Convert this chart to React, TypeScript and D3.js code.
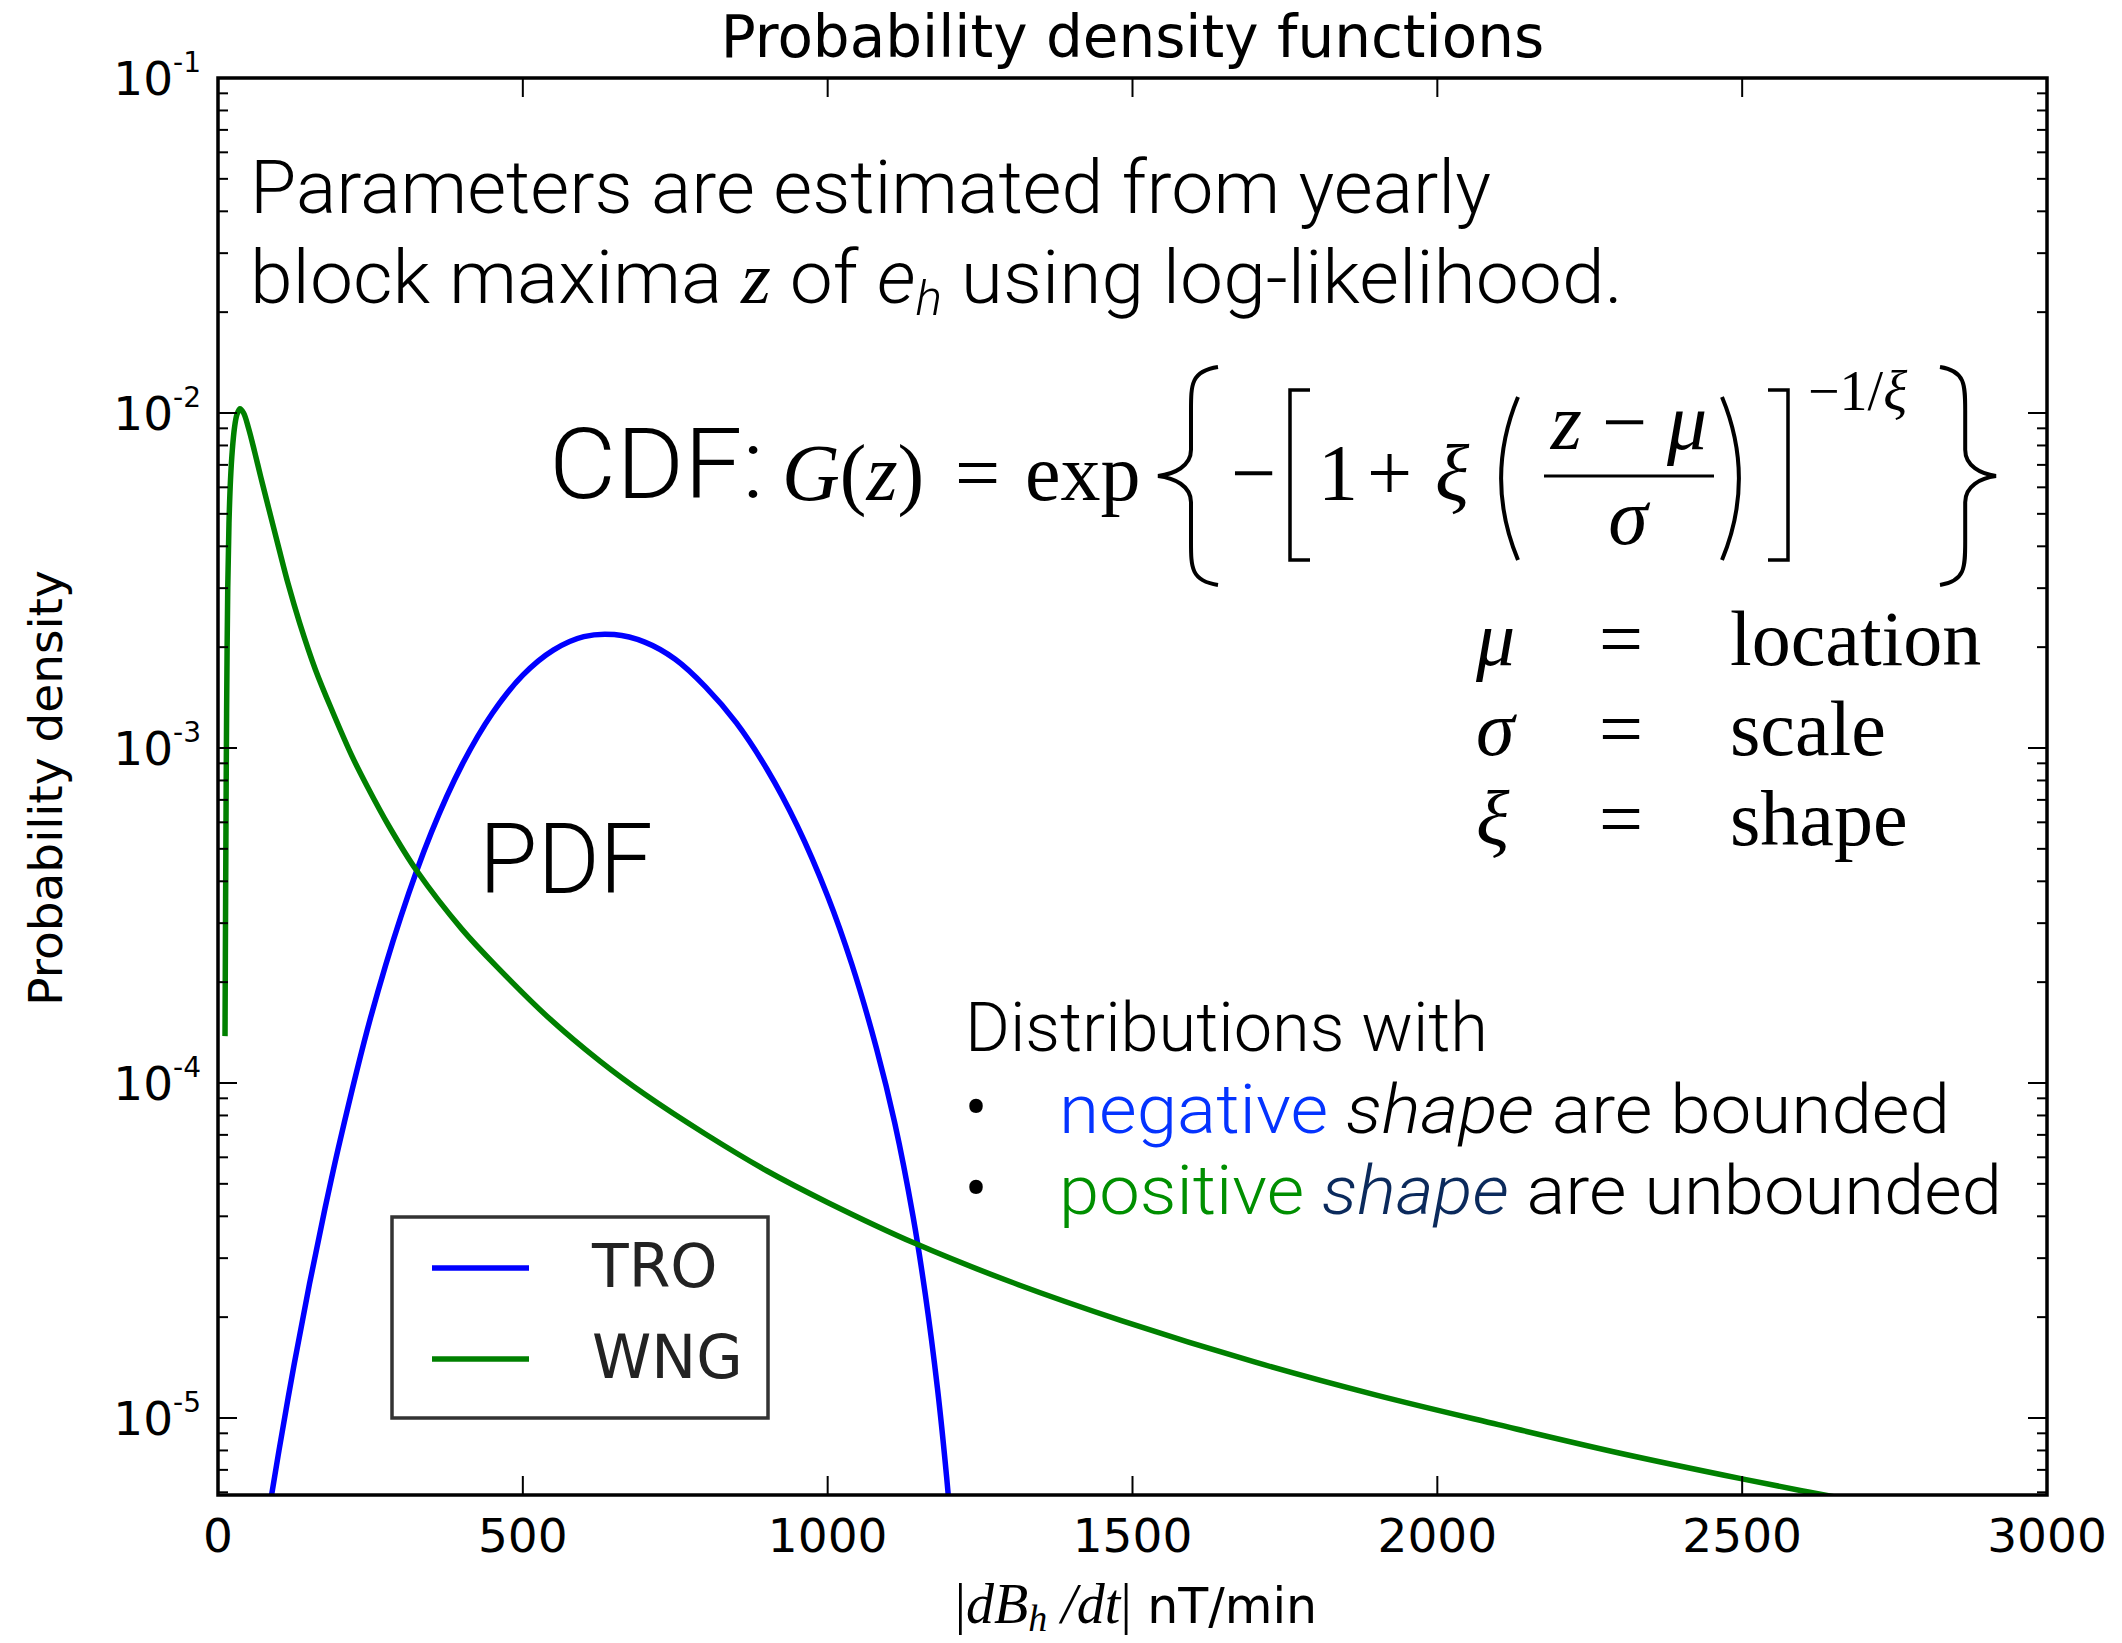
import React from 'react';
import * as d3 from 'd3';

// values
const xTicks = [0, 500, 1000, 1500, 2000, 2500, 3000];
const yDecades = [-1, -2, -3, -4, -5];

const seriesNames = ['TRO', 'WNG'];

const troX = [80, 85, 100, 125, 150, 175, 200, 250, 300, 350, 400, 450, 500, 550, 600, 650, 700, 750, 800, 850, 900, 950, 1000, 1040, 1080, 1110, 1140, 1160, 1180, 1195, 1205];
const troY = [4.82e-6, 5.47e-6, 7.99e-6, 1.45e-5, 2.51e-5, 4.18e-5, 6.71e-5, 1.56e-4, 3.14e-4, 5.6e-4, 8.89e-4, 1.27e-3, 1.65e-3, 1.96e-3, 2.15e-3, 2.18e-3, 2.07e-3, 1.84e-3, 1.52e-3, 1.19e-3, 8.67e-4, 5.86e-4, 3.61e-4, 2.25e-4, 1.27e-4, 7.6e-5, 4.0e-5, 2.35e-5, 1.23e-5, 6.7e-6, 4.1e-6];

const wngX = [11.5, 12.5, 13.5, 14.5, 16, 18, 20.5, 23.5, 27, 31, 36, 42, 50, 60, 70, 80, 99, 115, 134, 160, 189, 220, 244, 280, 326, 400, 462, 540, 627, 700, 800, 900, 1000, 1145, 1300, 1483, 1700, 1900, 2100, 2300, 2500, 2611, 2700];
const wngY = [1.38e-4, 3.55e-4, 8.32e-4, 1.58e-3, 3.02e-3, 4.68e-3, 6.31e-3, 7.76e-3, 9.02e-3, 9.89e-3, 1.03e-2, 1.0e-2, 9.02e-3, 7.67e-3, 6.46e-3, 5.47e-3, 4.0e-3, 3.09e-3, 2.36e-3, 1.71e-3, 1.27e-3, 9.44e-4, 7.73e-4, 5.86e-4, 4.3e-4, 2.88e-4, 2.18e-4, 1.58e-4, 1.16e-4, 9.25e-5, 7.03e-5, 5.47e-5, 4.4e-5, 3.31e-5, 2.55e-5, 1.95e-5, 1.47e-5, 1.17e-5, 9.55e-6, 7.85e-6, 6.58e-6, 6.0e-6, 5.6e-6];

const W = 2122;
const H = 1643;
const M = { left: 218, right: 2047, top: 78, bottom: 1495 };
const colors = ['#0000ff', '#008000'];

const SANS = 'DejaVu Sans';
const LIGHT = 'Roboto';
const SERIF = 'Liberation Serif';

// tall math delimiters drawn as paths
const bracePath = (x0: number, x1: number, top: number, bot: number, left: boolean) => {
  const mid = (top + bot) / 2;
  const inner = left ? x0 + (x1 - x0) * 0.55 : x1 - (x1 - x0) * 0.55;
  const tip = left ? x0 : x1;
  const end = left ? x1 : x0;
  const h = bot - top;
  return `M${end},${top} C${inner},${top + 4} ${inner},${top + h * 0.08} ${inner},${top + h * 0.2}
    L${inner},${mid - h * 0.12} C${inner},${mid - 10} ${(inner + tip) / 2},${mid - 2} ${tip},${mid}
    C${(inner + tip) / 2},${mid + 2} ${inner},${mid + 10} ${inner},${mid + h * 0.12}
    L${inner},${bot - h * 0.2} C${inner},${bot - h * 0.08} ${inner},${bot - 4} ${end},${bot}`;
};
const parenPath = (x0: number, x1: number, top: number, bot: number, left: boolean) => {
  const a = left ? x1 : x0;
  const b = left ? x0 - (x1 - x0) * 0.3 : x1 + (x1 - x0) * 0.3;
  return `M${a},${top} Q${b},${(top + bot) / 2} ${a},${bot}`;
};
const bracketPath = (x0: number, x1: number, top: number, bot: number, left: boolean) =>
  left ? `M${x1},${top} L${x0},${top} L${x0},${bot} L${x1},${bot}` : `M${x0},${top} L${x1},${top} L${x1},${bot} L${x0},${bot}`;

export default function App() {
  const x = d3.scaleLinear().domain([0, 3000]).range([M.left, M.right]);
  const y = d3.scaleLog().domain([Math.pow(10, -5.2299), 0.1]).range([M.bottom, M.top]);

  const line = d3
    .line<[number, number]>()
    .x((d) => x(d[0]))
    .y((d) => y(d[1]))
    .curve(d3.curveCatmullRom.alpha(0.5));

  const series = [
    troX.map((v, i) => [v, troY[i]] as [number, number]),
    wngX.map((v, i) => [v, wngY[i]] as [number, number]),
  ];

  const [ymin, ymax] = y.domain();
  const minor: number[] = [];
  for (let k = -6; k <= -2; k++) {
    for (let m = 2; m <= 9; m++) {
      const v = m * Math.pow(10, k);
      if (v >= ymin && v <= ymax) minor.push(v);
    }
  }

  const majLen = 19;
  const minLen = 10;
  const lw = 5.5;

  return (
    <svg width={W} height={H} style={{ position: 'absolute', left: 0, top: 0, background: '#fff' }}>
      <defs>
        <clipPath id="plotArea">
          <rect x={M.left} y={M.top} width={M.right - M.left} height={M.bottom - M.top} />
        </clipPath>
      </defs>
      <rect width={W} height={H} fill="#fff" />

      {/* curves */}
      <g clipPath="url(#plotArea)">
        {series.map((s, i) => (
          <path key={seriesNames[i]} d={line(s) || ''} fill="none" stroke={colors[i]} strokeWidth={lw} strokeLinejoin="round" />
        ))}
      </g>

      {/* ticks */}
      <g stroke="#000" strokeWidth={2}>
        {xTicks.map((t) => (
          <g key={'xt' + t}>
            <line x1={x(t)} x2={x(t)} y1={M.bottom} y2={M.bottom - majLen} />
            <line x1={x(t)} x2={x(t)} y1={M.top} y2={M.top + majLen} />
          </g>
        ))}
        {yDecades.map((k) => (
          <g key={'yt' + k}>
            <line x1={M.left} x2={M.left + majLen} y1={y(Math.pow(10, k))} y2={y(Math.pow(10, k))} />
            <line x1={M.right} x2={M.right - majLen} y1={y(Math.pow(10, k))} y2={y(Math.pow(10, k))} />
          </g>
        ))}
        {minor.map((v) => (
          <g key={'ym' + v}>
            <line x1={M.left} x2={M.left + minLen} y1={y(v)} y2={y(v)} />
            <line x1={M.right} x2={M.right - minLen} y1={y(v)} y2={y(v)} />
          </g>
        ))}
      </g>

      {/* frame */}
      <rect x={M.left} y={M.top} width={M.right - M.left} height={M.bottom - M.top} fill="none" stroke="#000" strokeWidth={3.5} />

      {/* tick labels */}
      <g fontFamily={SANS} fontSize={47} fill="#000">
        {xTicks.map((t) => (
          <text key={'xl' + t} x={x(t)} y={M.bottom + 57} textAnchor="middle">
            {t}
          </text>
        ))}
        {yDecades.map((k) => (
          <text key={'yl' + k} x={M.left - 17} y={y(Math.pow(10, k)) + 17} textAnchor="end">
            10
            <tspan fontSize={28} dy={-23}>
              {'-' + -k}
            </tspan>
          </text>
        ))}
      </g>

      {/* title and axis labels */}
      <text x={(M.left + M.right) / 2} y={57} textAnchor="middle" fontFamily={SANS} fontSize={58}>
        Probability density functions
      </text>
      <text transform="translate(62,788) rotate(-90)" textAnchor="middle" fontFamily={SANS} fontSize={47}>
        Probability density
      </text>
      <text x={1136} y={1623} textAnchor="middle" fontSize={56}>
        <tspan fontFamily={SERIF}>|</tspan>
        <tspan fontFamily={SERIF} fontStyle="italic">dB</tspan>
        <tspan fontFamily={SERIF} fontStyle="italic" fontSize={38} dy={8}>h</tspan>
        <tspan fontFamily={SERIF} fontStyle="italic" dy={-8}> /dt</tspan>
        <tspan fontFamily={SERIF}>|</tspan>
        <tspan fontFamily={SANS} fontSize={49}> nT/min</tspan>
      </text>

      {/* legend */}
      <g>
        <rect x={392} y={1217} width={376} height={201} fill="#fff" stroke="#333" strokeWidth={3.5} />
        {seriesNames.map((n, i) => (
          <g key={'lg' + n}>
            <line x1={432} x2={529} y1={1268 + i * 91} y2={1268 + i * 91} stroke={colors[i]} strokeWidth={lw} />
            <text x={592} y={1287 + i * 91} fontFamily={SANS} fontSize={60} fill="#222">
              {n}
            </text>
          </g>
        ))}
      </g>

      {/* annotations */}
      <g fontFamily={LIGHT} fontWeight={300} fill="#000">
        <text x={250} y={213} fontSize={74} textLength={1241} lengthAdjust="spacingAndGlyphs">
          Parameters are estimated from yearly
        </text>
        <text x={250} y={303} fontSize={74} textLength={1373} lengthAdjust="spacingAndGlyphs">
          block maxima <tspan fontFamily={SERIF} fontStyle="italic" fontWeight={400}>z</tspan> of{' '}
          <tspan fontStyle="italic">e</tspan>
          <tspan fontStyle="italic" fontSize={48} dy={12}>h</tspan>
          <tspan dy={-12}> using log-likelihood.</tspan>
        </text>
        <text x={549} y={498} fontSize={98} textLength={215} lengthAdjust="spacingAndGlyphs">
          CDF:
        </text>
        <text x={479} y={893} fontSize={98} textLength={174} lengthAdjust="spacingAndGlyphs">
          PDF
        </text>
        <text x={965} y={1051} fontSize={68} textLength={523} lengthAdjust="spacingAndGlyphs">
          Distributions with
        </text>
        <text x={964} y={1133} fontSize={74}>•</text>
        <text x={964} y={1214} fontSize={74}>•</text>
        <text x={1059} y={1133} fontSize={68} textLength={891} lengthAdjust="spacingAndGlyphs">
          <tspan fill="#0433ff">negative</tspan> <tspan fontStyle="italic">shape</tspan> are bounded
        </text>
        <text x={1059} y={1214} fontSize={68} textLength={943} lengthAdjust="spacingAndGlyphs">
          <tspan fill="#008f00">positive</tspan> <tspan fontStyle="italic" fill="#0b2a5c">shape</tspan> are unbounded
        </text>
      </g>

      {/* GEV formula */}
      <g fontFamily={SERIF} fontSize={80} fill="#000">
        <text x={782} y={500}>
          <tspan fontStyle="italic">G</tspan>(<tspan fontStyle="italic">z</tspan>)
        </text>
        <text x={955} y={500}>=</text>
        <text x={1025} y={500}>exp</text>
        <text x={1231} y={500}>−</text>
        <text x={1318} y={500}>1</text>
        <text x={1367} y={500}>+</text>
        <text x={1435} y={500} fontStyle="italic">ξ</text>
        <text x={1629} y={449} textAnchor="middle">
          <tspan fontStyle="italic">z</tspan> − <tspan fontStyle="italic">μ</tspan>
        </text>
        <text x={1628} y={544} textAnchor="middle" fontStyle="italic">σ</text>
        <text x={1808} y={410} fontSize={56}>
          −1/<tspan fontStyle="italic">ξ</tspan>
        </text>
        <g fill="none" stroke="#000" strokeWidth={4}>
          <line x1={1544} x2={1714} y1={476} y2={476} strokeWidth={3} />
          <path d={bracePath(1158, 1218, 367, 585, true)} />
          <path d={bracePath(1940, 1996, 367, 585, false)} />
          <path d={bracketPath(1290, 1310, 390, 560, true)} strokeWidth={3.5} />
          <path d={bracketPath(1768, 1788, 390, 560, false)} strokeWidth={3.5} />
          <path d={parenPath(1492, 1518, 397, 560, true)} />
          <path d={parenPath(1722, 1748, 397, 560, false)} />
        </g>
        <g fontSize={78}>
          {[
            ['μ', 'location'],
            ['σ', 'scale'],
            ['ξ', 'shape'],
          ].map((r, i) => (
            <g key={'p' + i}>
              <text x={1476} y={665 + i * 90} fontStyle="italic">{r[0]}</text>
              <text x={1599} y={665 + i * 90}>=</text>
              <text x={1730} y={665 + i * 90}>{r[1]}</text>
            </g>
          ))}
        </g>
      </g>
    </svg>
  );
}
